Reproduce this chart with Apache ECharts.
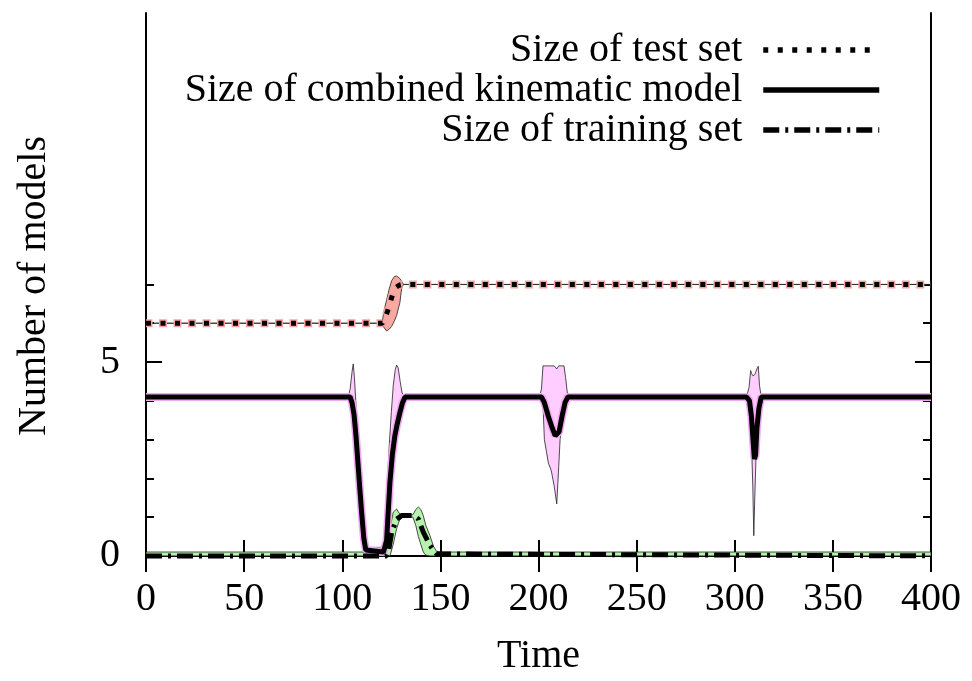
<!DOCTYPE html>
<html>
<head>
<meta charset="utf-8">
<script src="https://cdn.jsdelivr.net/npm/echarts@6/dist/echarts.min.js"></script>
<style>
  html, body { margin: 0; padding: 0; background: #fff; }
  #chart { width: 972px; height: 681px; }
</style>
</head>
<body>
<div id="chart"></div>
<script>
const FONT = 'Liberation Serif'

// axis ticks
const yLabelTicks = [0, 5]
const yMinorTicks = [1, 2, 3, 4, 6, 7]

// size of test set
const testMeanT = [0, 120.5, 121.5, 123, 124.5, 126, 127.5, 129, 130.5, 400]
const testMeanV = [6, 6, 6.1, 6.3, 6.55, 6.8, 6.93, 6.98, 7, 7]
const testBandT = [0, 119.5, 120.5, 121.4, 122.6, 124, 125.2, 126.5, 127.7, 129.4, 130.3, 131.2, 400]
const testBandLo = [6, 6, 5.95, 5.88, 5.8, 5.85, 5.92, 6.05, 6.2, 6.54, 6.92, 7, 7]
const testBandHi = [6, 6, 6.08, 6.35, 6.6, 6.9, 7.1, 7.2, 7.22, 7.15, 7.08, 7, 7]

// size of combined kinematic model
const kinMeanT = [0, 104, 105, 106, 107, 108, 109, 110, 111, 112, 113, 121, 122, 122.6, 123.5, 124.3, 125.5, 126.8, 128, 129.4, 130.7, 132,
  201.5, 203, 205, 207, 208.5, 209.5, 210.5, 212, 213.5, 215,
  306, 307.5, 308.5, 309.3, 310, 310.6, 311.3, 312.3, 313.5, 400]
const kinMeanV = [4.1, 4.1, 3.95, 3.65, 3.1, 2.4, 1.7, 1.04, 0.45, 0.15, 0.1, 0.1, 0.15, 0.4, 1.2, 1.9, 2.6, 3.1, 3.4, 3.7, 3.95, 4.1,
  4.1, 3.95, 3.6, 3.3, 3.1, 3.05, 3.2, 3.6, 3.95, 4.1,
  4.1, 4.0, 3.6, 3.0, 2.5, 2.6, 3.3, 3.8, 4.1, 4.1]
const kinBandT = [0, 103, 104, 105, 105.6, 106.2, 107, 108, 109, 110, 111, 112, 113, 121, 122, 123, 124, 125, 126, 127,
  127.7, 128.5, 129.5, 130.5, 132, 200.5, 201.5, 202.3, 203, 204, 205, 206.5, 208, 209.3, 210.3, 211, 212, 213, 213.8, 214.7,
  215.5, 305.5, 306.5, 307.3, 308.1, 308.6, 309.2, 309.7, 310.2, 310.8, 311.5, 312, 312.6, 313.2, 314, 400]
const kinBandLo = [4.1, 4.1, 4.0, 3.7, 3.55, 3.4, 2.7, 1.9, 1.1, 0.5, 0.1, 0.02, 0.0, 0.0, 0.05, 0.3, 1.0, 1.8, 2.4, 2.8,
  3.0, 3.2, 3.45, 3.7, 4.1, 4.1, 4.0, 3.9, 3.0, 2.7, 2.4, 2.2, 1.8, 1.34, 2.3, 3.0, 3.4, 3.7, 3.85, 3.95,
  4.1, 4.1, 3.95, 3.7, 3.3, 2.8, 1.8, 0.52, 1.5, 2.5, 3.1, 3.5, 3.8, 3.95, 4.1, 4.1]
const kinBandHi = [4.1, 4.1, 4.3, 4.75, 4.95, 4.6, 3.9, 3.1, 2.2, 1.4, 0.7, 0.3, 0.22, 0.22, 0.9, 1.9, 2.9, 3.7, 4.4, 4.8,
  4.92, 4.85, 4.5, 4.2, 4.1, 4.1, 4.3, 4.9, 4.9, 4.9, 4.9, 4.9, 4.9, 4.82, 4.9, 4.9, 4.9, 4.9, 4.6, 4.2,
  4.1, 4.1, 4.2, 4.35, 4.78, 4.7, 4.65, 4.65, 4.68, 4.75, 4.85, 4.89, 4.4, 4.2, 4.1, 4.1]

// size of training set
const trainMeanT = [0, 122.5, 123.5, 125.2, 127.7, 130.3, 136.2, 138.8, 141.3, 144.7, 148, 149, 400]
const trainMeanV = [0, 0, 0.1, 0.61, 0.95, 1.04, 1.04, 0.95, 0.61, 0.27, 0.05, 0, 0]
const trainBandT = [0, 121.5, 123, 124.3, 126, 127.7, 129, 130.5, 136, 137.5, 138.8, 140, 141.3, 142.5, 144.7, 146.5, 148, 150, 400]
const trainBandLo = [0, 0, 0, 0, 0.3, 0.7, 0.9, 1.0, 1.0, 0.78, 0.5, 0.3, 0.1, 0.02, 0, 0, 0, 0, 0]
const trainBandHi = [0.1, 0.1, 0.25, 0.7, 1.13, 1.21, 1.1, 1.06, 1.06, 1.2, 1.26, 1.2, 1.04, 0.8, 0.52, 0.25, 0.12, 0.1, 0.1]

const pairs = (t, v) => t.map((x, i) => [x, v[i]])

// filled spread with a thin dark border: lower edge forward, upper edge back
const band = (id, t, lo, hi, fill) => ({
  name: id + '-band', type: 'custom', silent: true, z: 1, clip: true,
  data: [[t[0], lo[0]]],
  renderItem: (params, api) => {
    const pts = pairs(t, lo).concat(pairs(t, hi).reverse()).map((p) => api.coord(p))
    return {
      type: 'polygon',
      shape: { points: pts },
      style: { fill, stroke: '#222', lineWidth: 0.8 },
    }
  },
})

const line = (name, t, v, style, z) => ({
  name, type: 'line', symbol: 'none', silent: true, z,
  data: pairs(t, v),
  lineStyle: Object.assign({ color: '#000', width: 5, cap: 'butt' }, style),
})

const chart = echarts.init(document.getElementById('chart'))

const tickAxis = (pos, values, len, extra) => Object.assign({
  type: 'value', position: pos, min: -0.08, max: 14,
  axisLine: { show: false },
  axisTick: { show: true, inside: true, length: len, customValues: values, lineStyle: { color: '#000', width: 2 } },
  axisLabel: { show: false },
  splitLine: { show: false },
}, extra)

chart.setOption({
  animation: false,
  backgroundColor: '#fff',
  grid: { left: 146, right: 41, top: 13, bottom: 121 },
  legend: {
    data: ['Size of test set', 'Size of combined kinematic model', 'Size of training set'],
    orient: 'vertical', align: 'right', right: 90, top: 30, padding: 0,
    itemWidth: 116, itemHeight: 14, itemGap: 0, selectedMode: false,
    itemStyle: { opacity: 0 },
    lineStyle: { width: 5.5 },
    textStyle: { fontFamily: FONT, fontSize: 40, color: '#000', lineHeight: 40, padding: [0, 16, 0, 0] },
  },
  xAxis: [
    {
      type: 'value', position: 'bottom', min: 0, max: 400, interval: 50,
      name: 'Time', nameLocation: 'middle', nameGap: 77,
      nameTextStyle: { fontFamily: FONT, fontSize: 40, color: '#000' },
      axisLine: { lineStyle: { color: '#000', width: 2 } },
      axisTick: { inside: true, length: 16, lineStyle: { color: '#000', width: 2 } },
      axisLabel: { fontFamily: FONT, fontSize: 40, color: '#000', margin: 20 },
      splitLine: { show: false },
    },
    {
      type: 'value', position: 'top', min: 0, max: 400, interval: 50,
      axisLine: { show: true, lineStyle: { color: '#000', width: 2 } },
      axisTick: { inside: true, length: 16, lineStyle: { color: '#000', width: 2 } },
      axisLabel: { show: false },
      splitLine: { show: false },
    },
  ],
  yAxis: [
    tickAxis('left', yLabelTicks, 16, {
      axisLine: { show: true, lineStyle: { color: '#000', width: 2 } },
      axisLabel: { show: true, customValues: yLabelTicks, fontFamily: FONT, fontSize: 40, color: '#000', margin: 26 },
      name: 'Number of models', nameLocation: 'middle', nameGap: 92,
      nameTextStyle: { fontFamily: FONT, fontSize: 40, color: '#000' },
    }),
    tickAxis('left', yMinorTicks, 8),
    tickAxis('right', yLabelTicks, 16, { axisLine: { show: true, lineStyle: { color: '#000', width: 2 } } }),
    tickAxis('right', yMinorTicks, 8),
  ],
  series: [
    band('test', testBandT, testBandLo, testBandHi, '#f8a9a1'),
    band('kin', kinBandT, kinBandLo, kinBandHi, '#ffcdff'),
    band('train', trainBandT, trainBandLo, trainBandHi, '#b5f2ad'),
    line('test-halo', testMeanT, testMeanV, { color: '#f8a3a0', width: 8, type: [8, 6.5], dashOffset: 1.5 }, 3),
    line('kin-halo', kinMeanT, kinMeanV, { color: '#f3a8f3', width: 8 }, 3),
    line('Size of test set', testMeanT, testMeanV, { type: [5, 9.5] }, 4),
    line('Size of combined kinematic model', kinMeanT, kinMeanV, {}, 4),
    line('Size of training set', trainMeanT, trainMeanV, { type: [16, 6, 3, 6] }, 4),
  ],
})
</script>
</body>
</html>
